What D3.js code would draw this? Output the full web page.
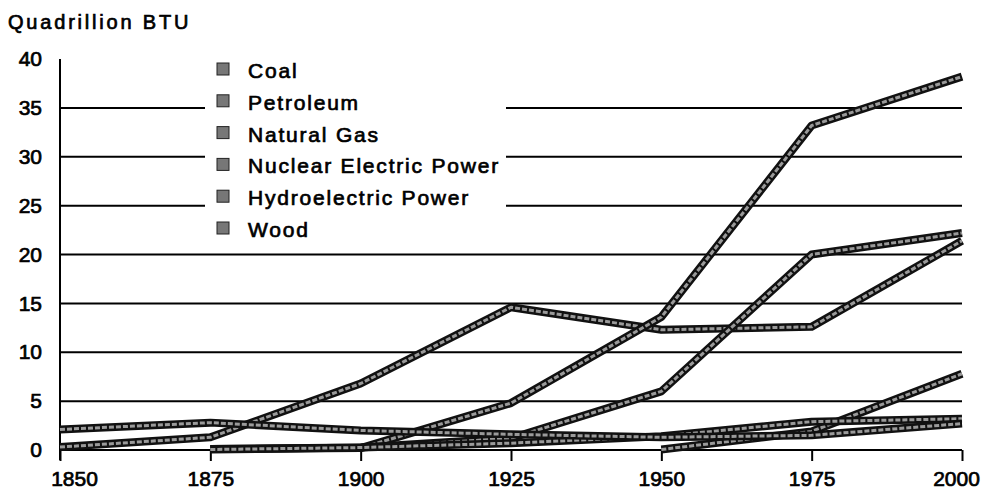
<!DOCTYPE html>
<html>
<head>
<meta charset="utf-8">
<script src="https://cdn.jsdelivr.net/npm/d3@7"></script>
<style>
  html, body { margin: 0; padding: 0; background: #fff; }
  svg { display: block; font-family: "Liberation Sans", Arial, sans-serif; }
  svg text { stroke: #000; stroke-width: 0.7px; }
</style>
</head>
<body>
<svg id="chart" width="989" height="493"></svg>
<script>
// ---- data ----
const years = [1850, 1875, 1900, 1925, 1950, 1975, 2000];
const coal        = [0.3, 1.3, 6.8, 14.6, 12.3, 12.6, 21.4];
const petroleum   = [null, 0.1, 0.2, 4.8, 13.6, 33.2, 38.2];
const naturalGas  = [null, 0.1, 0.25, 1.2, 6.0, 20.0, 22.2];
const nuclear     = [null, null, null, null, 0.05, 1.9, 7.8];
const hydro       = [null, 0.05, 0.25, 0.7, 1.4, 2.9, 3.2];
const wood        = [2.1, 2.8, 2.0, 1.6, 1.3, 1.5, 2.7];
const seriesNames = ["Coal", "Petroleum", "Natural Gas", "Nuclear Electric Power", "Hydroelectric Power", "Wood"];
const seriesValues = [coal, petroleum, naturalGas, nuclear, hydro, wood];
const yTicks = [0, 5, 10, 15, 20, 25, 30, 35, 40];
const gridValues = [5, 10, 15, 20, 25, 30, 35];
const yTitle = "Quadrillion BTU";

// ---- layout ----
const svg = d3.select("#chart");
const x = d3.scaleLinear().domain([1850, 2000]).range([60, 962]);
const y = d3.scaleLinear().domain([0, 40]).range([450, 59]);

// gridlines
svg.append("g").selectAll("line").data(gridValues).join("line")
  .attr("x1", x(1850)).attr("x2", x(2000))
  .attr("y1", d => y(d)).attr("y2", d => y(d))
  .attr("stroke", "#000").attr("stroke-width", 2);

// legend background (interrupts gridlines)
svg.append("rect").attr("x", 205).attr("y", 55).attr("width", 301).attr("height", 190).attr("fill", "#fff");

// x axis
const xAxis = svg.append("g").attr("transform", `translate(0,${y(0)})`)
  .call(d3.axisBottom(x).tickValues(years).tickFormat(d3.format("d")).tickSize(11).tickPadding(10));
xAxis.select(".domain").remove();
xAxis.selectAll(".tick line").attr("stroke", "#000").attr("stroke-width", 2);
xAxis.selectAll(".tick text").attr("font-size", 21).attr("fill", "#000")
  .attr("font-family", "'Liberation Sans', Arial, sans-serif");
xAxis.selectAll(".tick text").filter(d => d === 1850).attr("dx", 14);
xAxis.selectAll(".tick text").filter(d => d === 2000).attr("dx", -6);
svg.append("line").attr("x1", x(1850)).attr("x2", x(2000)).attr("y1", y(0)).attr("y2", y(0))
  .attr("stroke", "#000").attr("stroke-width", 2);

// y axis
const yAxis = svg.append("g").attr("transform", `translate(${x(1850)},0)`)
  .call(d3.axisLeft(y).tickValues(yTicks).tickSize(0).tickPadding(18));
yAxis.select(".domain").remove();
yAxis.selectAll(".tick text").attr("font-size", 21).attr("fill", "#000")
  .attr("font-family", "'Liberation Sans', Arial, sans-serif");
svg.append("line").attr("x1", x(1850)).attr("x2", x(1850)).attr("y1", y(40)).attr("y2", y(0) + 10)
  .attr("stroke", "#000").attr("stroke-width", 2);

// title
svg.append("text").attr("x", 8).attr("y", 29).attr("font-size", 20).attr("letter-spacing", 2.8)
  .attr("fill", "#000").text(yTitle);

// series lines
const line = d3.line().defined(d => d[1] !== null).x(d => x(d[0])).y(d => y(d[1]));
const gLines = svg.append("g");
seriesValues.forEach((vals) => {
  const pts = years.map((yr, i) => [yr, vals[i]]);
  gLines.append("path").attr("d", line(pts)).attr("fill", "none")
    .attr("stroke", "#111").attr("stroke-width", 8).attr("stroke-linejoin", "round").attr("stroke-linecap", "butt");
  gLines.append("path").attr("d", line(pts)).attr("fill", "none")
    .attr("stroke", "#9a9a9a").attr("stroke-width", 3).attr("stroke-linejoin", "round")
    .attr("stroke-dasharray", "5,2");
});

// legend
const legend = svg.append("g");
const rowY = d3.scalePoint().domain(seriesNames).range([78, 237]);
seriesNames.forEach((name) => {
  const by = rowY(name);
  legend.append("rect").attr("x", 217).attr("y", by - 15).attr("width", 12).attr("height", 12)
    .attr("fill", "#777").attr("stroke", "#222").attr("stroke-width", 1);
  legend.append("text").attr("x", 248).attr("y", by).attr("font-size", 21).attr("letter-spacing", 1.8)
    .attr("fill", "#000").text(name);
});
</script>
</body>
</html>
